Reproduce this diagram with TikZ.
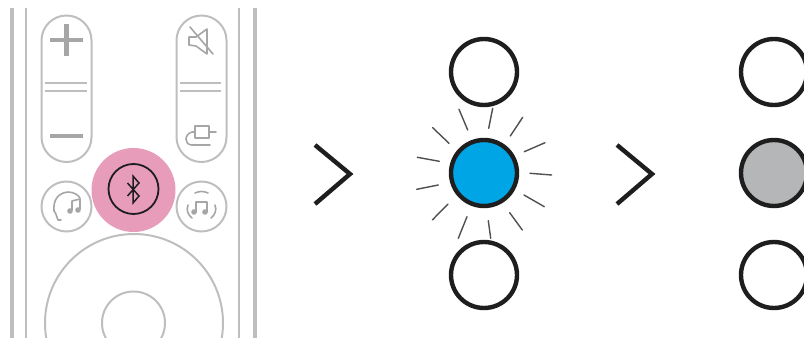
\documentclass[tikz,border=0pt]{standalone}
\definecolor{remotegray}{HTML}{BEBEBE}
\definecolor{icongray}{HTML}{A6A6A6}
\definecolor{pinkbtn}{HTML}{E79DB9}
\definecolor{ledblue}{HTML}{00A5E6}
\definecolor{ledgray}{HTML}{B5B6B8}
\definecolor{inkblack}{HTML}{1E1E1E}
\definecolor{raygray}{HTML}{505050}
\tikzset{
  rline/.style={draw=remotegray,line width=2pt},
  thin rline/.style={draw=remotegray,line width=1.4pt},
  iconline/.style={draw=icongray,line width=1.6pt,line cap=round,line join=round},
  led/.style={circle,draw=inkblack,line width=4.4pt,minimum size=66pt,inner sep=0pt,fill=white},
  chev/.style={draw=inkblack,line width=4.4pt,line join=miter},
  ray/.style={draw=raygray,line width=1.4pt,line cap=round}
}
\begin{document}
\begin{tikzpicture}[x=1pt,y=-1pt]
\useasboundingbox (0,0) rectangle (804,339);
\begin{scope}
\clip (0,0) rectangle (804,338);
% side rails
\draw[rline,line width=3.2pt] (12,8) -- (12,339);
\draw[rline,line width=2.4pt] (26,8) -- (26,339);
\draw[rline,line width=2.4pt] (239,8) -- (239,339);
\draw[rline,line width=3.2pt] (255,8) -- (255,339);
% wheel
\node[circle,rline,minimum size=178pt,inner sep=0pt] (wheel) at (134,323) {};
\node[circle,rline,minimum size=63pt,inner sep=0pt] (hub) at (133.5,323) {};
\end{scope}
% pills
\draw[rline] (41.5,40.5) arc[start angle=180,end angle=360,radius=25] -- (91.5,137) arc[start angle=0,end angle=180,radius=25] -- cycle;
\draw[rline] (176.5,40.5) arc[start angle=180,end angle=360,radius=25] -- (226.5,137) arc[start angle=0,end angle=180,radius=25] -- cycle;
\foreach \yy in {83,91}{
  \draw[thin rline] (45,\yy) -- (87,\yy);
  \draw[thin rline] (180,\yy) -- (221,\yy);
}
% plus and minus
\draw[icongray,line width=4.6pt] (50,40) -- (83,40);
\draw[icongray,line width=4.6pt] (66.5,24) -- (66.5,56);
\draw[icongray,line width=4.6pt] (50,136) -- (83,136);
% mute icon
\draw[iconline] (189,37) -- (196,37) -- (207,29) -- (207,54) -- (196,46) -- (189,45) -- cycle;
\draw[iconline] (190,27) -- (213,54);
% input icon
\draw[iconline] (201,145) -- (192,145) .. controls (184,145) and (184,134) .. (192,132) -- (195,132);
\draw[iconline] (195,126) -- (209,126) -- (209,138) -- (195,138) -- cycle;
\draw[iconline] (209,132) -- (216,132);
\draw[iconline] (192,145) -- (210,145);
% side buttons
\node[circle,rline,minimum size=50pt,inner sep=0pt] (soundL) at (66.5,206.5) {};
\node[circle,rline,minimum size=50pt,inner sep=0pt] (soundR) at (201.5,206.5) {};
% left sound icon
\draw[iconline] (61,220) -- (58,220) .. controls (56,217) and (57,214) .. (54,211)
  .. controls (53,200) and (58,193) .. (68,192) .. controls (74,192) and (78,195) .. (80,198);
\draw[iconline] (72,210) -- (72,201) -- (80,199) -- (80,209);
\fill[icongray] (70,211) circle[radius=2.8] (78,210) circle[radius=2.8];
% right sound icon
\draw[iconline] (196,212) -- (196,202) -- (207,202) -- (207,212);
\fill[icongray] (194,212) circle[radius=2.8] (205,212) circle[radius=2.8];
\draw[iconline] (195,193) .. controls (199,191) and (204,191) .. (208,193);
\draw[iconline] (188,205) .. controls (186,210) and (188,215) .. (192,218);
\draw[iconline] (215,205) .. controls (217,210) and (215,215) .. (211,218);
% bluetooth button
\node[circle,fill=pinkbtn,minimum size=84pt,inner sep=0pt] (btbtn) at (133.5,190) {};
\node[circle,draw=inkblack,line width=1.8pt,minimum size=50pt,inner sep=0pt] (btring) at (133.5,189) {};
\draw[inkblack,line width=1.5pt,line join=miter] (127.5,183) -- (139,196) -- (133,203) -- (133,176) -- (139,183) -- (127.5,196);
% chevrons
\coordinate (c1a) at (315,145); \coordinate (c1b) at (350,174); \coordinate (c1c) at (315,204);
\coordinate (c2a) at (617,145); \coordinate (c2b) at (652,174); \coordinate (c2c) at (617,204);
\draw[chev] (c1a) -- (c1b) -- (c1c);
\draw[chev] (c2a) -- (c2b) -- (c2c);
% LEDs
\node[led] (a1) at (484,72) {};
\node[led,fill=ledblue] (a2) at (484,173) {};
\node[led] (a3) at (484,275) {};
\node[led] (b1) at (774,72) {};
\node[led,fill=ledgray] (b2) at (774,173) {};
\node[led] (b3) at (774,275) {};
% rays
\foreach \xa/\ya/\xb/\yb in {
 459/109.3/467.7/130, 492.7/108.3/488.7/128.3, 522.7/117.3/510.3/136,
 545/142.7/524.3/151.7, 551.7/175/530/173.3, 544.3/206.7/524/195,
 522.3/230/509.7/212.7, 490.7/238.3/488.3/220.7, 458.3/238.3/467/216.7,
 432.3/220/448/204, 416.7/189.3/438.3/185, 417.3/157.3/439.3/161.3,
 432.7/127.7/449/143.3}{
  \draw[ray] (\xa,\ya) -- (\xb,\yb);
}
\end{tikzpicture}
\end{document}
